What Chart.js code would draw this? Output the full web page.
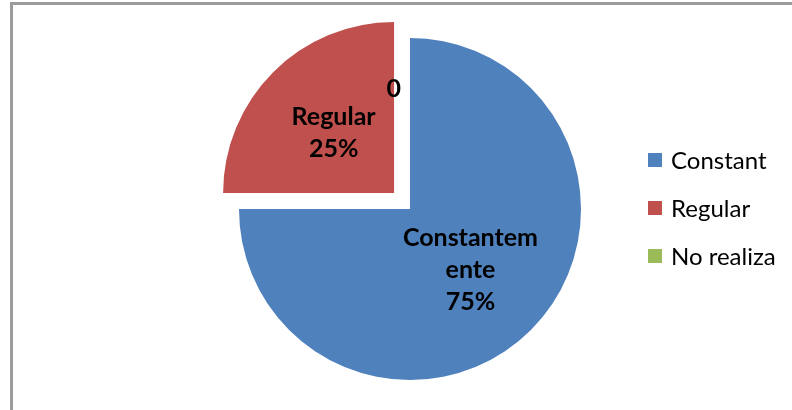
<!DOCTYPE html>
<html>
<head>
<meta charset="utf-8">
<script src="https://cdn.jsdelivr.net/npm/chart.js@4.4.1/dist/chart.umd.min.js"></script>
<style>
  html, body { margin: 0; padding: 0; background: #fff; }
  #wrap { position: relative; width: 792px; height: 410px; overflow: hidden; }
  #frame {
    position: absolute; left: 10px; top: 2px; width: 900px; height: 500px;
    border-left: 3px solid #9b9b9b; border-top: 3px solid #9b9b9b; box-sizing: border-box;
  }
  canvas { position: absolute; left: 0; top: 0; }
</style>
</head>
<body>
<div id="wrap">
  <div id="frame"></div>
  <canvas id="chart" width="792" height="410"></canvas>
</div>
<script>
/* ── Data ── */
const categories = ['Constantemente', 'Regular', 'No realiza'];
const legendNames = ['Constant', 'Regular', 'No realiza'];
const sliceNames = [['Constantem', 'ente'], ['Regular'], []];
const values = [75, 25, 0];

const SLICE_COLORS = ['#4F81BD', '#C0504D', '#9BBB59'];
const LABEL_FONT = 'bold 25px Lato';
const LEGEND_FONT = '24px Lato';

/* ── Labels drawn on top of each slice ── */
const sliceLabels = {
  id: 'sliceLabels',
  afterDatasetsDraw(chart) {
    const ctx = chart.ctx;
    const meta = chart.getDatasetMeta(0);
    const total = values.reduce((a, b) => a + b, 0);
    ctx.save();
    ctx.font = LABEL_FONT;
    ctx.fillStyle = '#000';
    ctx.textBaseline = 'middle';
    meta.data.forEach((arc, i) => {
      const { x, y, startAngle, endAngle, outerRadius } =
        arc.getProps(['x', 'y', 'startAngle', 'endAngle', 'outerRadius'], true);
      const mid = (startAngle + endAngle) / 2;
      // arcs are pushed out by offset / 4 along their middle angle
      const shift = (arc.options.offset || 0) / 4;
      const cx = x + Math.cos(mid) * shift;
      const cy = y + Math.sin(mid) * shift;
      if (values[i] === 0) {
        ctx.textAlign = 'right';
        ctx.fillText(String(values[i]),
          cx + Math.cos(mid) * outerRadius * 0.7 - 9,
          cy + Math.sin(mid) * outerRadius * 0.7);
        return;
      }
      const lines = sliceNames[i].concat(Math.round(values[i] / total * 100) + '%');
      const lx = cx + Math.cos(mid) * outerRadius * 0.5;
      const ly = cy + Math.sin(mid) * outerRadius * 0.5;
      const lh = 32;
      ctx.textAlign = 'center';
      lines.forEach((t, k) => ctx.fillText(t, lx, ly + (k - (lines.length - 1) / 2) * lh));
    });
    ctx.restore();
  }
};

/* ── Legend on the right ── */
const sideLegend = {
  id: 'sideLegend',
  afterDraw(chart) {
    const ctx = chart.ctx;
    ctx.save();
    ctx.font = LEGEND_FONT;
    ctx.textBaseline = 'middle';
    ctx.textAlign = 'left';
    legendNames.forEach((name, i) => {
      const y = 160 + i * 48;
      ctx.fillStyle = SLICE_COLORS[i];
      ctx.fillRect(648, y - 7, 14, 14);
      ctx.fillStyle = '#000';
      ctx.fillText(name, 671, y + 1);
    });
    ctx.restore();
  }
};

new Chart(document.getElementById('chart'), {
  type: 'pie',
  data: {
    labels: categories,
    datasets: [{
      data: values,
      backgroundColor: SLICE_COLORS,
      borderWidth: 0,
      offset: [0, 90, 0],
      radius: 171
    }]
  },
  options: {
    responsive: false,
    animation: false,
    layout: { padding: { left: 28, top: 8, right: 0, bottom: 0 } },
    plugins: {
      legend: { display: false },
      tooltip: { enabled: false }
    }
  },
  plugins: [sliceLabels, sideLegend]
});
</script>
</body>
</html>
